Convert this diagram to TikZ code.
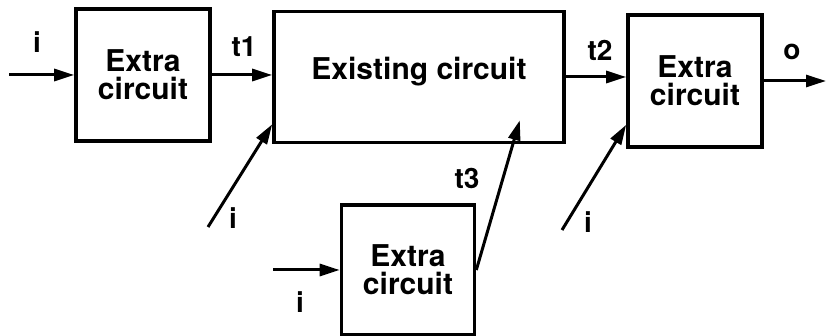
\documentclass[tikz,border=0pt]{standalone}
\usepackage{fontspec}
\setmainfont{TeX Gyre Heros}
\usetikzlibrary{arrows.meta,calc}

\begin{document}
\begin{tikzpicture}[x=0.5pt,y=-0.5pt,
  box/.style={draw,line width=1.8pt,align=center,inner sep=0pt,font=\fontsize{15}{14}\selectfont\bfseries},
  lbl/.style={font=\fontsize{14}{16}\selectfont\bfseries},
  sig/.style={line width=1.5pt,-{Triangle[length=10pt,width=6pt]}}]
  \useasboundingbox (0,0) rectangle (826,336);
  % blocks: existing circuit with three extra circuits around it
  \node[box,minimum width=67pt,minimum height=66pt] (xl) at (143,75) {Extra\\circuit};
  \node[box,minimum width=145pt,minimum height=65.5pt,text depth=9pt] (ex) at (419,77) {Existing circuit};
  \node[box,minimum width=67pt,minimum height=66pt] (xr) at (695,81) {Extra\\circuit};
  \node[box,minimum width=66.5pt,minimum height=65pt] (xb) at (408,270) {Extra\\circuit};
  % free ends
  \coordinate (inA) at (9,75);
  \coordinate (inB) at (208,227);
  \coordinate (inC) at (273,270);
  \coordinate (inD) at (562,230);
  \coordinate (outE) at (826,81);
  % signals
  \draw[sig] (inA) -- (xl.west);
  \draw[sig] (xl.east) -- (xl.east -| ex.west);
  \draw[sig] (ex.east) -- (ex.east -| xr.west);
  \draw[sig] (xr.east) -- (outE);
  \draw[sig] (inB) -- ($(ex.south west)+(0,-20)$);
  \draw[sig] (inC) -- (xb.west);
  \draw[sig] (xb.east) -- ($(ex.south east)+(-46,-24)$);
  \draw[sig] (inD) -- ($(xr.south west)+(0,-24)$);
  % labels
  \node[lbl] (li1) at (37,42) {i};
  \node[lbl] (lt1) at (244,47) {t1};
  \node[lbl] (li2) at (233,218) {i};
  \node[lbl] (lt3) at (467,178) {t3};
  \node[lbl] (li3) at (300,302) {i};
  \node[lbl] (lt2) at (600,50) {t2};
  \node[lbl] (lo) at (792,52) {o};
  \node[lbl] (li4) at (588,222) {i};
\end{tikzpicture}
\end{document}
